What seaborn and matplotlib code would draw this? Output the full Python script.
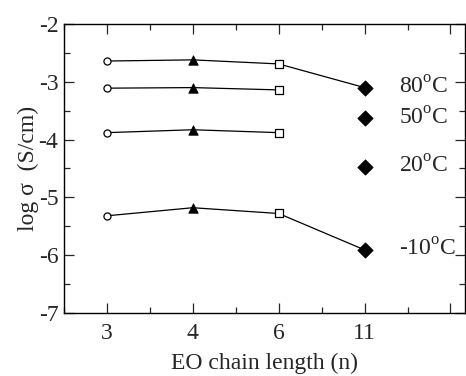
import pandas as pd
import matplotlib
matplotlib.use("Agg")
import matplotlib.pyplot as plt
from matplotlib.ticker import MultipleLocator, FixedLocator
import seaborn as sns

# data
chain_labels = ["3", "4", "6", "11"]
temps = ["80", "50", "20", "-10"]
log_80 = [-2.64, -2.62, -2.69, -3.10]
log_50 = [-3.11, -3.10, -3.14, -3.63]
log_20 = [-3.88, -3.83, -3.88, -4.47]
log_m10 = [-5.32, -5.18, -5.28, -5.91]
# how many points of each series are joined by a line
joined = [4, 3, 3, 4]

sns.set_theme(style="ticks")
plt.rcParams["font.family"] = ["Liberation Serif", "DejaVu Serif"]
plt.rcParams["mathtext.fontset"] = "custom"
plt.rcParams["mathtext.rm"] = "Liberation Serif"

rows = []
for t, vals, nj in zip(temps, [log_80, log_50, log_20, log_m10], joined):
    for i, v in enumerate(vals):
        rows.append({"pos": i + 1, "logs": v, "temp": t, "joined": i < nj, "kind": i})
df = pd.DataFrame(rows)

fig = plt.figure(figsize=(4.66, 3.76), dpi=100)
ax = fig.add_axes([0.137, 0.168, 0.861, 0.768])

sns.lineplot(data=df[df["joined"]], x="pos", y="logs", units="temp", estimator=None,
             color="black", lw=0.9, ax=ax, zorder=1)

marker_styles = [
    dict(marker="o", s=26, facecolor="white", edgecolor="black", linewidth=0.9),
    dict(marker="^", s=46, facecolor="black", edgecolor="black", linewidth=0.6),
    dict(marker="s", s=26, facecolor="white", edgecolor="black", linewidth=0.9),
    dict(marker="D", s=60, facecolor="black", edgecolor="black", linewidth=0.6),
]
for k, st in enumerate(marker_styles):
    sns.scatterplot(data=df[df["kind"] == k], x="pos", y="logs", ax=ax, zorder=3,
                    legend=False, **st)

for t, vals in zip(temps, [log_80, log_50, log_20, log_m10]):
    ax.text(4.4, vals[-1], t + r"$^\mathrm{o}$C", fontsize=17, ha="left", va="center")

ax.set_xlim(0.5, 5.17)
ax.set_ylim(-7, -2)
ax.xaxis.set_major_locator(FixedLocator([1, 2, 3, 4, 5]))
ax.set_xticklabels(chain_labels + [""])
ax.xaxis.set_minor_locator(MultipleLocator(0.5))
ax.yaxis.set_major_locator(MultipleLocator(1))
ax.yaxis.set_minor_locator(MultipleLocator(0.5))
ax.set_yticklabels([f"{int(v)}" for v in ax.get_yticks()])
ax.tick_params(which="both", direction="in", top=True, right=True, labelsize=17, width=0.9)
ax.tick_params(which="major", length=7, pad=4)
ax.tick_params(axis="x", which="major", pad=7)
ax.tick_params(which="minor", length=4)
for s in ax.spines.values():
    s.set_linewidth(1.0)
    s.set_color("black")

ax.set_xlabel("EO chain length (n)", fontsize=17, labelpad=7)
ax.set_ylabel("log σ  (S/cm)", fontsize=17, labelpad=0)

fig.savefig("out.png", dpi=100)
